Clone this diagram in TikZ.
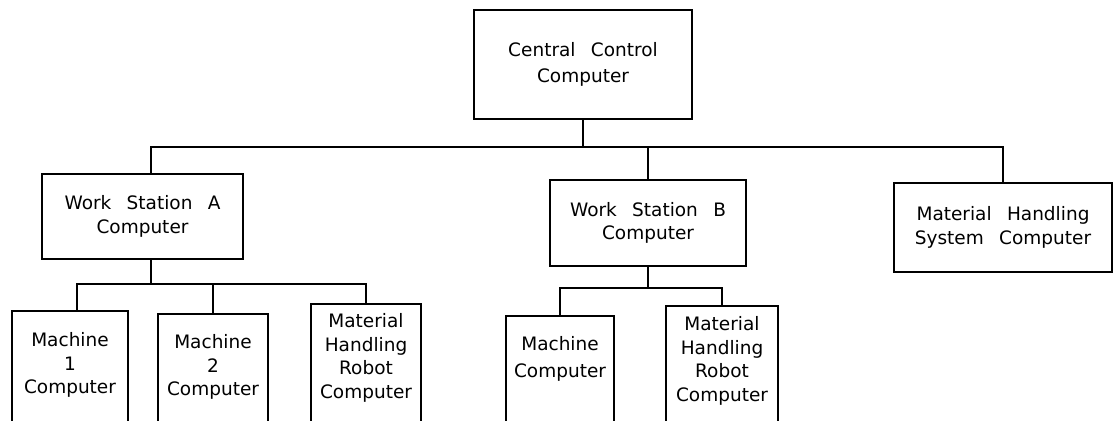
\documentclass[tikz,border=0pt]{standalone}
\usepackage{fontspec}
\setmainfont{DejaVu Sans}[WordSpace=2.6]
\usetikzlibrary{positioning}

\begin{document}
\begin{tikzpicture}[
        x=1pt,
        y=-1pt,
        line width=1.6pt,
        font=\fontsize{18.5}{23.5}\selectfont,
        unit/.style 2 args={
          draw,
          align=center,
          inner sep=0pt,
          minimum width=#1,
          minimum height=#2
          },
        leaf/.style={
          draw,
          anchor=north,
          inner sep=0pt,
          minimum width=#1,
          minimum height=150pt
          },
        leaftext/.style={
          anchor=north,
          align=center,
          inner sep=0pt,
          yshift=-#1
          }
        ]
        \useasboundingbox (0,0) rectangle (1115,420);
        \clip (0,0) rectangle (1115,420);
        % upper level
        \node[unit={218pt}{109pt}] (cc) at (583,64.5) {Central Control\\[3pt]Computer};
        \node[unit={201pt}{85pt}] (wsa) at (142.5,216.5) {Work Station A\\Computer};
        \node[unit={196pt}{86pt}] (wsb) at (648,223) {Work Station B\\Computer};
        \node[unit={218pt}{89pt}] (mhs) at (1003,227.5) {Material Handling\\System Computer};
        % lower level
        \node[leaf=116pt, label={[leaftext=22pt, name=m1t]north:{Machine\\1\\Computer}}] (m1) at (70,310) {};
        \node[leaf=110pt, label={[leaftext=21pt, name=m2t]north:{Machine\\2\\Computer}}] (m2) at (213,313) {};
        \node[leaf=110pt, label={[leaftext=10pt, name=rat]north:{Material\\Handling\\Robot\\Computer}}] (ra) at (366,303) {};
        \node[leaf=108pt, label={[leaftext=21pt, name=mbt]north:{Machine\\[3pt]Computer}}] (mb) at (560,315) {};
        \node[leaf=112pt, label={[leaftext=11pt, name=rbt]north:{Material\\Handling\\Robot\\Computer}}] (rb) at (722,305) {};
        \coordinate (ta) at (151,147);
        \coordinate (ba) at (151,284);
        \coordinate (bb) at (648,288);
        \draw (cc.south) -- (cc.south |- ta);
        \draw (ta |- wsa.north) -- (ta) -- (mhs.north |- ta) -- (mhs.north);
        \draw (wsb.north) -- (wsb.north |- ta);
        \draw (ta |- wsa.south) -- (ba);
        \draw ([xshift=7pt]m1.north) |- (ra.north |- ba) -- (ra.north);
        \draw (m2.north) -- (m2.north |- ba);
        \draw (wsb.south) -- (bb);
        \draw (mb.north) |- (rb.north |- bb) -- (rb.north);
\end{tikzpicture}
\end{document}
